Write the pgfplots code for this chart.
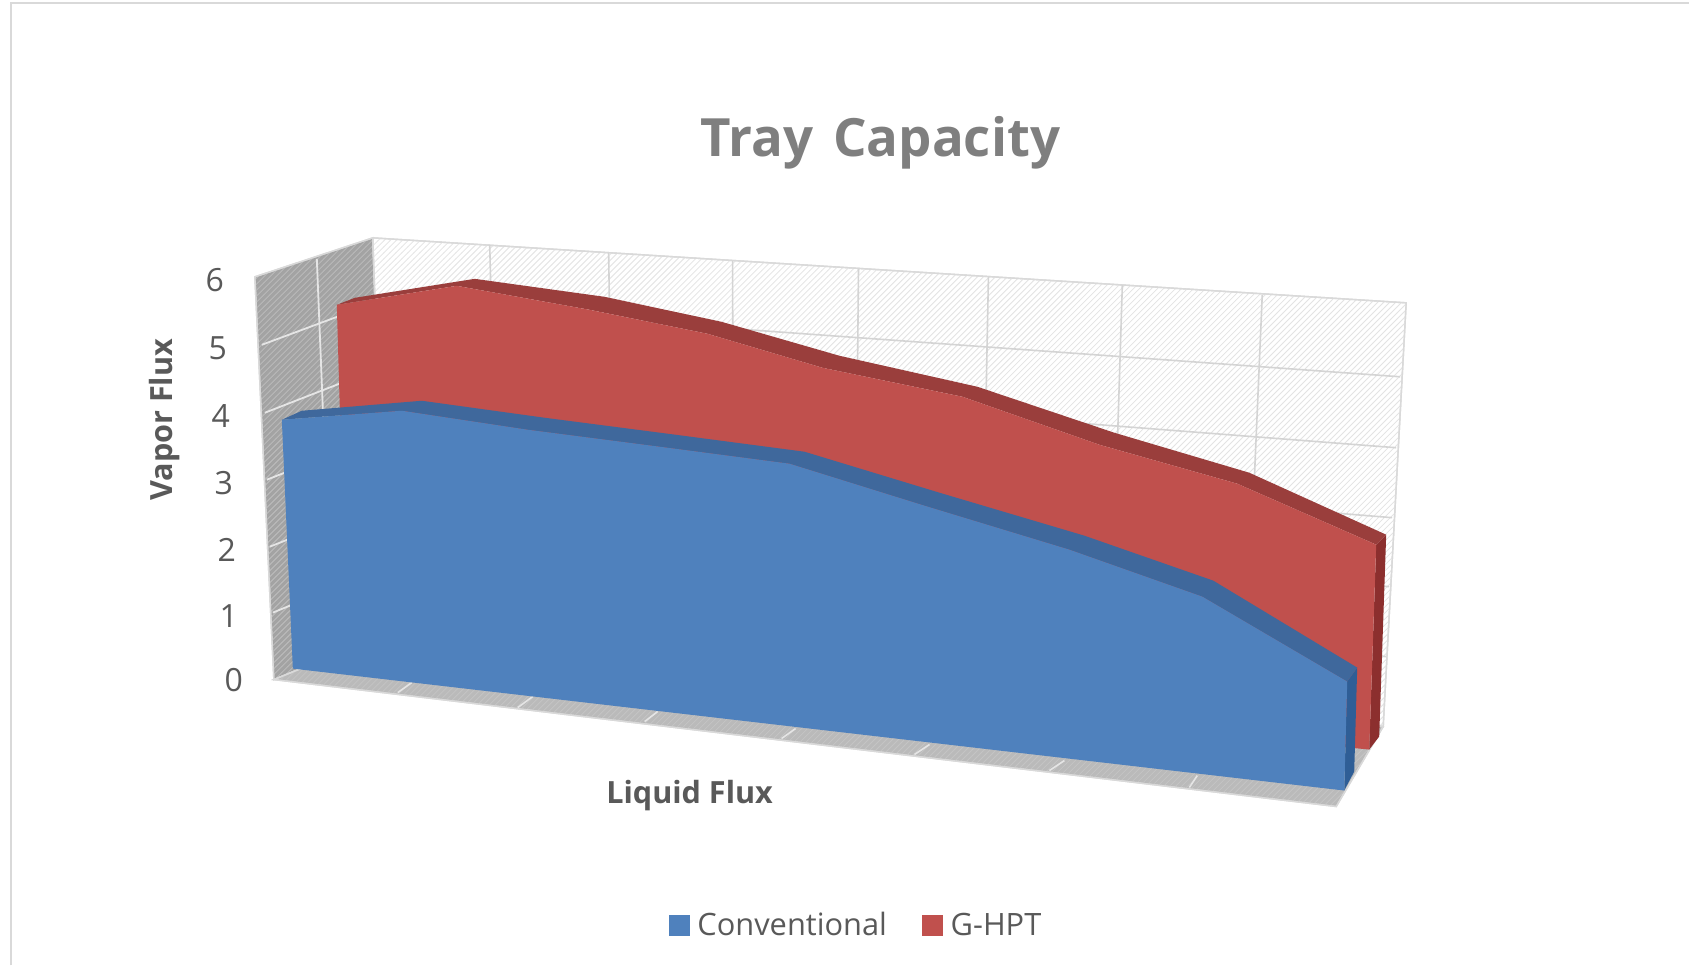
\documentclass[border=0pt]{standalone}
\usepackage{fontspec}
\setmainfont{Open Sans}
\usepackage{pgfplots}
\pgfplotsset{compat=1.18}
\usetikzlibrary{patterns}

\definecolor{txt}{HTML}{595959}
\definecolor{ttl}{HTML}{7F7F7F}
\definecolor{edgegray}{HTML}{D9D9D9}
\definecolor{gridgray}{HTML}{D4D4D4}
\definecolor{bluef}{HTML}{4F81BD}
\definecolor{bluet}{HTML}{3F689C}
\definecolor{blues}{HTML}{2F5E96}
\definecolor{redf}{HTML}{C0504D}
\definecolor{redt}{HTML}{9A3E3C}
\definecolor{reds}{HTML}{8C2F2E}

\begin{document}
\begin{tikzpicture}
\begin{axis}[
    at={(0,0)}, anchor=south west,
    scale only axis, width=845pt, height=483pt,
    xmin=0, xmax=1690, ymin=0, ymax=966,
    y dir=reverse, hide axis, clip=false,
    every axis plot/.append style={forget plot},
    legend style={at={(axis cs:669,926)}, anchor=west, draw=none, fill=none,
        legend columns=2, font=\fontsize{15.4}{18}\selectfont\color{txt},
        /tikz/every even column/.append style={column sep=15.5pt},
        inner sep=0pt, outer sep=0pt},
    legend cell align=left,
    legend image code/.code={\fill[#1] (0pt,-5pt) rectangle (10pt,5pt);},
]
% chart area and frame
\addplot[fill=white, draw=none] coordinates {(0,0) (1690,0) (1690,966) (0,966)} -- cycle;
\addplot[edgegray, line width=1pt] coordinates {(11,966) (11,3.5) (1690,3.5)};

% legend
\addlegendimage{bluef}
\addlegendentry{\hspace{2pt}Conventional}
\addlegendimage{redf}
\addlegendentry{\hspace{2pt}G-HPT}

% left wall
\addplot[fill=black!36, draw=edgegray, line width=0.7pt,
    postaction={pattern=north east lines, pattern color=black!26}]
    coordinates {(255,277) (373,238) (387,634) (274,680)} -- cycle;
% back wall
\addplot[fill=white, draw=edgegray, line width=0.7pt,
    postaction={pattern=north east lines, pattern color=black!11}]
    coordinates {(373,238) (1407,303) (1384,727) (387,634)} -- cycle;
% floor
\addplot[fill=black!27, draw=edgegray, line width=0.7pt,
    postaction={pattern=north east lines, pattern color=black!23}]
    coordinates {(274,680) (1337,807) (1384,727) (387,634)} -- cycle;

% back wall gridlines, values 1 to 5
\addplot[gridgray, line width=0.8pt] coordinates {(375,303) (1401,377)};
\addplot[gridgray, line width=0.8pt] coordinates {(378,369) (1397,448)};
\addplot[gridgray, line width=0.8pt] coordinates {(381,435) (1393,518)};
\addplot[gridgray, line width=0.8pt] coordinates {(383,502) (1390,587)};
\addplot[gridgray, line width=0.8pt] coordinates {(385,567) (1387,657)};
% back wall gridlines, categories
\addplot[gridgray, line width=0.8pt] coordinates {(490,245) (500,645)};
\addplot[gridgray, line width=0.8pt] coordinates {(609,253) (615,655)};
\addplot[gridgray, line width=0.8pt] coordinates {(733,261) (734,666)};
\addplot[gridgray, line width=0.8pt] coordinates {(859,269) (855,677)};
\addplot[gridgray, line width=0.8pt] coordinates {(989,277) (981,689)};
\addplot[gridgray, line width=0.8pt] coordinates {(1123,285) (1110,701)};
\addplot[gridgray, line width=0.8pt] coordinates {(1263,295) (1245,714)};

% left wall gridlines
\addplot[white!90!black, line width=0.9pt] coordinates {(262,345) (375,303)};
\addplot[white!90!black, line width=0.9pt] coordinates {(265,413) (378,369)};
\addplot[white!90!black, line width=0.9pt] coordinates {(267,480) (381,435)};
\addplot[white!90!black, line width=0.9pt] coordinates {(270,547) (383,502)};
\addplot[white!90!black, line width=0.9pt] coordinates {(273,613) (385,567)};
\addplot[white!90!black, line width=0.9pt] coordinates {(317,259) (333,657)};
% floor gridlines
\addplot[white!90!black, line width=0.8pt] coordinates {(398,693) (412,683)};
\addplot[white!90!black, line width=0.8pt] coordinates {(518,708) (533,697)};
\addplot[white!90!black, line width=0.8pt] coordinates {(645,722) (658,712)};
\addplot[white!90!black, line width=0.8pt] coordinates {(782,739) (796,729)};
\addplot[white!90!black, line width=0.8pt] coordinates {(915,755) (930,745)};
\addplot[white!90!black, line width=0.8pt] coordinates {(1050,771) (1065,761)};
\addplot[white!90!black, line width=0.8pt] coordinates {(1190,788) (1198,776)};

% G-HPT: side, top, front
\addplot[fill=reds, draw=none] coordinates {(1377,545) (1387,535) (1380,737) (1370,750)} -- cycle;
\addplot[fill=redt, draw=none] coordinates {
    (337,305) (457,286) (590,310) (708,334) (823,368) (963,397) (1100,445) (1238,484) (1377,545)
    (1387,535) (1250,473) (1115,433) (978,387) (840,356) (722,322) (605,297) (475,279) (355,298)} -- cycle;
\addplot[fill=redf, draw=none] coordinates {
    (337,305) (457,286) (590,310) (708,334) (823,368) (963,397) (1100,445) (1238,484) (1377,545)
    (1370,750) (347,650)} -- cycle;

% Conventional: side, top, front
\addplot[fill=blues, draw=none] coordinates {(1348,682) (1358,668) (1355,772) (1345,791)} -- cycle;
\addplot[fill=bluet, draw=none] coordinates {
    (282,420) (402,411) (528,430) (660,447) (790,464) (925,506) (1070,550) (1203,597) (1348,682)
    (1358,668) (1214,581) (1085,536) (940,493) (805,452) (676,435) (545,418) (422,401) (302,411)} -- cycle;
\addplot[fill=bluef, draw=none] coordinates {
    (282,420) (402,411) (528,430) (660,447) (790,464) (925,506) (1070,550) (1203,597) (1348,682)
    (1345,791) (293,669)} -- cycle;

% text
\node[font=\fontsize{26.4}{32}\selectfont\bfseries, text=ttl] at (axis cs:881,143) {Tray\hspace{3pt} Capacity};
\node[font=\fontsize{15.3}{18}\selectfont\bfseries, text=txt, rotate=90] at (axis cs:165,420) {Vapor Flux};
\node[font=\fontsize{15.3}{18}\selectfont\bfseries, text=txt] at (axis cs:690,796) {Liquid Flux};
\node[font=\fontsize{16}{18}\selectfont, text=txt] at (axis cs:215,280) {6};
\node[font=\fontsize{16}{18}\selectfont, text=txt] at (axis cs:218,348) {5};
\node[font=\fontsize{16}{18}\selectfont, text=txt] at (axis cs:221,416) {4};
\node[font=\fontsize{16}{18}\selectfont, text=txt] at (axis cs:224,483) {3};
\node[font=\fontsize{16}{18}\selectfont, text=txt] at (axis cs:227,550) {2};
\node[font=\fontsize{16}{18}\selectfont, text=txt] at (axis cs:229,616) {1};
\node[font=\fontsize{16}{18}\selectfont, text=txt] at (axis cs:234,680) {0};
\end{axis}
\end{tikzpicture}
\end{document}
